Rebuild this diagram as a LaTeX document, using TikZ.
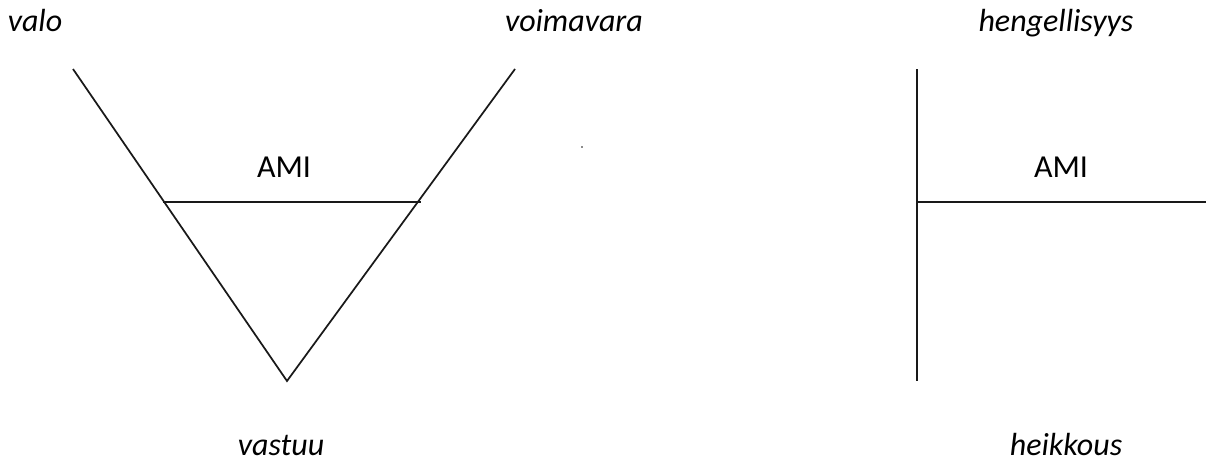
\documentclass[tikz,border=0pt]{standalone}
\usepackage{fontspec}
\setmainfont{Carlito}
\begin{document}
\begin{tikzpicture}[x=0.75pt,y=-0.75pt,
  ln/.style={line width=1.3pt,black!90},
  lbl/.style={font=\fontsize{24}{28}\selectfont\itshape,anchor=base,inner sep=0pt},
  ami/.style={font=\fontsize{24}{28}\selectfont,anchor=base,inner sep=0pt}]
\useasboundingbox (0,0) rectangle (1206,461);
% left V
\coordinate (vl) at (73,69);
\coordinate (vr) at (515,69);
\coordinate (vb) at (287,381);
\coordinate (hl) at (163,202);
\coordinate (hr) at (421,202);
\draw[ln] (vl) -- (vb) -- (vr);
\draw[ln] (hl) -- (hr);
\node[lbl] (valo) at (35,31) {valo};
\node[lbl] (voima) at (574,31) {voimavara};
\node[ami] (ami1) at (284,177) {AMI};
\node[lbl] (vastuu) at (281,455) {vastuu};
% dot
\fill[black!45] (581,146) rectangle (583,148);
% right cross
\coordinate (ct) at (917,69);
\coordinate (cb) at (917,381);
\coordinate (cl) at (917,202);
\coordinate (cr) at (1206,202);
\draw[ln] (ct) -- (cb);
\draw[ln] (cl) -- (cr);
\node[lbl] (heng) at (1056,31) {hengellisyys};
\node[ami] (ami2) at (1061,177) {AMI};
\node[lbl] (heik) at (1066,455) {heikkous};
\end{tikzpicture}
\end{document}
